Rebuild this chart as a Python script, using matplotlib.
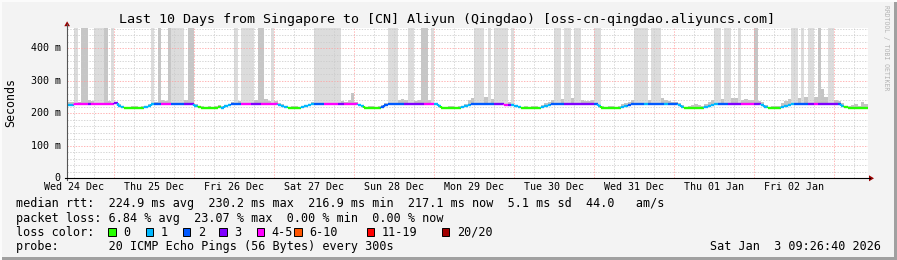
import matplotlib
matplotlib.use("Agg")
import matplotlib.pyplot as plt
from matplotlib.collections import LineCollection
from matplotlib.lines import Line2D
from matplotlib.patches import Rectangle, Polygon
from matplotlib.transforms import blended_transform_factory

# ---------------- data ----------------
# hours counted from Wed 24 Dec 00:00; first sample at 10:00
start_hour = 10

median_ms = (
    [225, 226, 229, 229, 229, 229, 230, 229, 229, 229, 229, 229, 229, 230]
    + [232, 224, 218, 217, 217, 217, 217, 217, 217, 219, 224, 228, 230, 230, 230, 230, 230, 230, 230, 230, 230, 230, 230, 230]
    + [224, 218, 217, 217, 217, 217, 217, 219, 216, 221, 225, 229, 230, 230, 230, 230, 230, 230, 230, 230, 230, 230, 230, 230]
    + [230, 227, 222, 218, 217, 217, 217, 217, 219, 222, 225, 228, 230, 230, 230, 230, 230, 230, 230, 230, 230, 230, 230, 230]
    + [230, 227, 221, 217, 217, 217, 217, 217, 220, 225, 229, 230, 230, 230, 230, 230, 230, 230, 230, 230, 230, 230, 230, 230]
    + [228, 221, 217, 217, 217, 217, 217, 217, 219, 223, 227, 230, 230, 230, 230, 230, 230, 230, 230, 230, 230, 226, 225, 225]
    + [221, 219, 217, 217, 217, 217, 217, 217, 219, 223, 227, 230, 230, 230, 230, 230, 230, 230, 230, 230, 230, 230, 230, 230]
    + [230, 224, 217, 217, 217, 217, 217, 217, 219, 222, 226, 229, 230, 230, 230, 230, 230, 230, 230, 230, 230, 230, 230, 230]
    + [230, 226, 220, 217, 217, 217, 217, 217, 217, 219, 222, 226, 229, 230, 230, 230, 230, 230, 230, 230, 230, 230, 230, 230]
    + [230, 230, 226, 220, 217, 217, 217, 217, 219, 222, 226, 229, 230, 230, 230, 230, 230, 230, 230, 230, 230, 230, 230, 230]
    + [230, 230, 224, 218, 217, 217, 217, 217, 217, 217]
)

loss_pings = (
    [1, 1, 4, 4, 4, 4, 3, 4, 4, 4, 4, 4, 4, 4]
    + [3, 1, 1, 0, 0, 0, 0, 0, 0, 1, 1, 1, 2, 2, 4, 4, 4, 2, 2, 2, 2, 3, 3, 3]
    + [1, 0, 0, 0, 0, 0, 0, 0, 1, 1, 1, 2, 2, 2, 4, 4, 4, 3, 3, 3, 4, 4, 4, 4]
    + [4, 1, 1, 1, 0, 0, 0, 0, 1, 1, 1, 1, 2, 2, 2, 4, 4, 4, 4, 3, 3, 4, 4, 4]
    + [4, 1, 1, 0, 0, 0, 0, 0, 2, 2, 2, 2, 2, 2, 2, 3, 3, 3, 3, 3, 3, 4, 4, 4]
    + [1, 1, 0, 0, 0, 0, 0, 0, 1, 1, 1, 2, 2, 2, 2, 2, 2, 2, 3, 3, 3, 4, 3, 1]
    + [1, 1, 0, 0, 0, 0, 0, 0, 1, 1, 1, 2, 2, 2, 2, 3, 3, 3, 3, 3, 3, 3, 3, 3]
    + [2, 1, 0, 0, 0, 0, 0, 0, 1, 1, 2, 2, 2, 2, 2, 1, 2, 2, 2, 2, 2, 1, 2, 2]
    + [2, 1, 1, 0, 0, 0, 0, 0, 0, 1, 1, 1, 1, 2, 2, 2, 3, 3, 3, 3, 4, 4, 4, 4]
    + [3, 3, 1, 1, 0, 0, 0, 0, 1, 1, 1, 1, 2, 2, 2, 2, 3, 3, 4, 3, 3, 3, 3, 3]
    + [3, 2, 1, 0, 0, 0, 0, 0, 0, 0]
)

smoke_max_ms = (
    [236, 235, 480, 236, 480, 480, 240, 238, 480, 480, 480, 480, 238, 480]
    + [236, 228, 221, 220, 220, 222, 221, 220, 222, 224, 230, 480, 236, 480, 240, 238, 480, 480, 480, 480, 480, 240, 480, 480]
    + [230, 220, 222, 220, 221, 220, 222, 226, 222, 226, 230, 235, 480, 238, 480, 480, 480, 480, 240, 480, 480, 245, 238, 480]
    + [238, 232, 228, 222, 220, 222, 221, 220, 224, 226, 230, 236, 480, 480, 480, 480, 480, 480, 480, 480, 238, 236, 240, 262]
    + [236, 230, 224, 220, 221, 222, 220, 222, 226, 232, 480, 480, 480, 242, 244, 240, 480, 480, 238, 240, 480, 480, 240, 480]
    + [232, 226, 220, 220, 222, 221, 220, 221, 224, 228, 240, 248, 480, 480, 480, 250, 480, 245, 480, 480, 480, 480, 236, 480]
    + [226, 224, 220, 221, 220, 222, 221, 220, 225, 232, 236, 240, 480, 480, 245, 480, 480, 246, 480, 480, 240, 238, 238, 240]
    + [480, 480, 222, 220, 221, 222, 220, 221, 228, 232, 236, 240, 480, 480, 480, 480, 242, 480, 480, 480, 246, 240, 238, 236]
    + [236, 232, 226, 220, 222, 225, 228, 226, 224, 228, 235, 240, 480, 480, 245, 480, 480, 246, 248, 480, 240, 244, 242, 240]
    + [480, 238, 234, 226, 220, 222, 221, 222, 232, 238, 244, 480, 480, 248, 480, 250, 480, 480, 250, 480, 275, 250, 480, 480]
    + [240, 238, 232, 224, 222, 226, 228, 224, 235, 230]
)

dark_smoke_hours = [14, 15, 21, 37, 40, 46, 47, 67, 68, 116, 117, 216, 235]

day_labels = ["Wed 24 Dec", "Thu 25 Dec", "Fri 26 Dec", "Sat 27 Dec", "Sun 28 Dec",
              "Mon 29 Dec", "Tue 30 Dec", "Wed 31 Dec", "Thu 01 Jan", "Fri 02 Jan"]
y_ticks = [0, 100, 200, 300, 400]
y_tick_labels = ["0", "100 m", "200 m", "300 m", "400 m"]

loss_labels = ["0", "1", "2", "3", "4-5", "6-10", "11-19", "20/20"]
loss_colors = ["#26ff00", "#00b8ff", "#0059ff", "#7e00ff", "#ff00ff", "#ff5500", "#ff0000", "#a10000"]
loss_upper = [0, 1, 2, 3, 5, 10, 19, 20]

title = "Last 10 Days from Singapore to [CN] Aliyun (Qingdao) [oss-cn-qingdao.aliyuncs.com]"
line_rtt = "median rtt:  224.9 ms avg  230.2 ms max  216.9 ms min  217.1 ms now  5.1 ms sd  44.0   am/s"
line_loss = "packet loss: 6.84 % avg  23.07 % max  0.00 % min  0.00 % now"
line_probe = "probe:       20 ICMP Echo Pings (56 Bytes) every 300s"
date_text = "Sat Jan  3 09:26:40 2026"

# ---------------- figure ----------------
W, H = 897, 260
MONO = "DejaVu Sans Mono"
fig = plt.figure(figsize=(W / 100, H / 100), dpi=100, facecolor="#f3f3f3")


def fx(px):
    return px / W


def fy(py):
    return 1 - py / H


x_left, x_right = 67, 868
y_top, y_bot = 28, 178.3
ax = fig.add_axes([fx(x_left), fy(y_bot), (x_right - x_left) / W, (y_bot - y_top) / H])
ax.set_facecolor("white")
ax.set_xlim(9.81, 250.1)
ax.set_ylim(0, 462.5)
for s in ax.spines.values():
    s.set_visible(False)
ax.set_xticks([])
ax.set_yticks([])

hours = [start_hour + i for i in range(len(median_ms))]


def loss_class(n):
    for k, up in enumerate(loss_upper):
        if n <= up:
            return k
    return len(loss_upper) - 1


# smoke
bottoms = [m - 3 for m in median_ms]
heights = [mx - b for mx, b in zip(smoke_max_ms, bottoms)]
colors = []
for h, mx in zip(hours, smoke_max_ms):
    if h in dark_smoke_hours:
        colors.append("#c6c6c6")
    elif mx >= 400:
        colors.append("#dcdcdc")
    else:
        colors.append("#c4c4c4")
ax.bar(hours, heights, bottom=bottoms, width=1.0, align="edge", color=colors,
       linewidth=0, antialiased=False, zorder=1)

# grid (dotted)
MINOR = "#cbcbcb"
MAJOR = "#ffa0a0"
for v in range(20, 462, 20):
    ax.axhline(v, color=MAJOR if v % 100 == 0 else MINOR, lw=0.55,
               ls=(0, (1.8, 1.8)), zorder=2, snap=True)
for hh in range(12, 251, 6):
    ax.axvline(hh, color=MAJOR if hh % 24 == 0 else MINOR, lw=0.55,
               ls=(0, (1.8, 1.8)), zorder=2, snap=True)

# median line coloured by loss
segs, segc = [], []
for i, (h, m, l) in enumerate(zip(hours, median_ms, loss_pings)):
    c = loss_colors[loss_class(l)]
    segs.append([(h, m), (h + 1, m)])
    segc.append(c)
    if i + 1 < len(median_ms) and median_ms[i + 1] != m:
        segs.append([(h + 1, m), (h + 1, median_ms[i + 1])])
        segc.append(loss_colors[loss_class(loss_pings[i + 1])])
ax.add_collection(LineCollection(segs, colors=segc, linewidths=1.7, zorder=3,
                                 capstyle="butt"))

# axis lines and arrows
fig.add_artist(Line2D([fx(x_left), fx(x_left)], [fy(y_bot + 2), fy(24)], color="#555555", lw=0.8))
fig.add_artist(Polygon([(fx(64.3), fy(26.2)), (fx(70.0), fy(26.2)), (fx(67.1), fy(21.3))],
                       closed=True, color="#990000", lw=0))
fig.add_artist(Line2D([fx(x_left - 2), fx(870)], [fy(y_bot), fy(y_bot)], color="black", lw=0.8))
fig.add_artist(Polygon([(fx(869), fy(y_bot - 3)), (fx(869), fy(y_bot + 3)), (fx(874), fy(y_bot))],
                       closed=True, color="#990000", lw=0))

# tick labels
tx = blended_transform_factory(ax.transData, fig.transFigure)
for d, lab in enumerate(day_labels):
    ax.text(12 + 24 * d, fy(187.3), lab, transform=tx, ha="center", va="center",
            fontsize=7.2, family=MONO, clip_on=False)
ty = blended_transform_factory(fig.transFigure, ax.transData)
for v, lab in zip(y_ticks, y_tick_labels):
    ax.text(fx(60.5), v, lab, transform=ty, ha="right", va="center",
            fontsize=7.2, family=MONO, clip_on=False)

# titles
fig.text(fx(446.5), fy(19.3), title, ha="center", va="center", fontsize=9.64, family=MONO)
fig.text(fx(11), fy(102.5), "Seconds", rotation=90, ha="center", va="center",
         fontsize=8.4, family=MONO)
fig.text(fx(886), fy(48), "RRDTOOL / TOBI OETIKER", rotation=270, ha="center", va="center",
         fontsize=4.7, family=MONO, color="#b4b4b4")

# legend
fig.text(fx(16), fy(204), line_rtt, ha="left", va="center", fontsize=8.43, family=MONO)
fig.text(fx(16), fy(218.3), line_loss, ha="left", va="center", fontsize=8.43, family=MONO)
fig.text(fx(16), fy(232.3), "loss color:", ha="left", va="center", fontsize=8.43, family=MONO)
box_x = [108.3, 145.7, 182.7, 219.3, 256.7, 294.3, 366.7, 441.7]
for bx, lab, col in zip(box_x, loss_labels, loss_colors):
    fig.add_artist(Rectangle((fx(bx), fy(235.8)), 7.4 / W, 7.4 / H, facecolor=col,
                             edgecolor="black", lw=0.7, transform=fig.transFigure))
    fig.text(fx(bx + 15), fy(232.3), lab, ha="left", va="center", fontsize=8.43, family=MONO)
fig.text(fx(16), fy(246.3), line_probe, ha="left", va="center", fontsize=8.43, family=MONO)
fig.text(fx(880.5), fy(246.3), date_text, ha="right", va="center", fontsize=8.43, family=MONO)

# frame shading
fig.add_artist(Rectangle((fx(894), 0), 3 / W, 1, facecolor="#a0a0a0", lw=0, transform=fig.transFigure))
fig.add_artist(Rectangle((0, 0), 1, 3 / H, facecolor="#a0a0a0", lw=0, transform=fig.transFigure))
fig.add_artist(Rectangle((0, 0), 2 / W, 1, facecolor="#fbfbfb", lw=0, transform=fig.transFigure))
fig.add_artist(Rectangle((0, fy(2)), 1, 2 / H, facecolor="#fbfbfb", lw=0, transform=fig.transFigure))

fig.savefig("out.png", dpi=100, facecolor=fig.get_facecolor())
